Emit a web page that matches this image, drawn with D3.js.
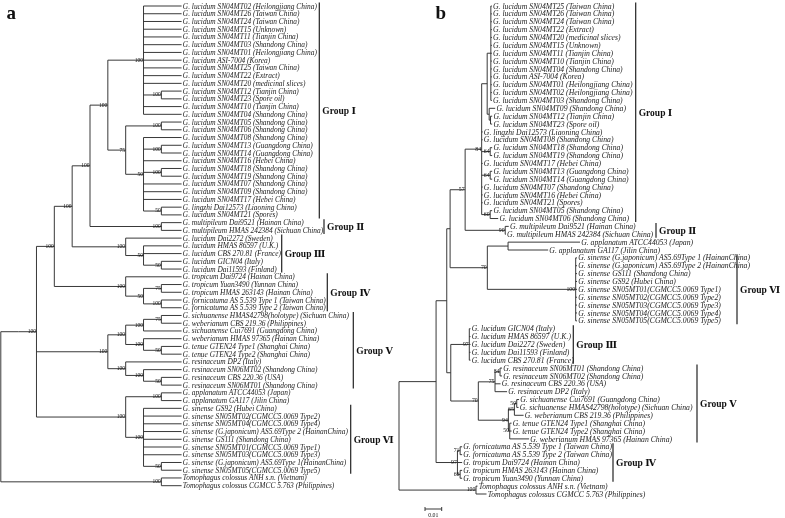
<!DOCTYPE html>
<html><head><meta charset="utf-8">
<script src="https://cdn.jsdelivr.net/npm/d3@7/dist/d3.min.js"></script>
<style>
body{margin:0;background:#fff}
svg{display:block;will-change:transform}
.leaf{font-family:"Liberation Serif","Times New Roman",serif;font-style:italic;fill:#1a1a1a}
.boot{font-family:"Liberation Serif","Times New Roman",serif;fill:#111}
.grp{font-family:"Liberation Serif","DejaVu Serif",serif;font-weight:bold;font-size:9.5px;fill:#111}
.panel{font-family:"Liberation Serif","Times New Roman",serif;font-weight:bold;font-size:19px;fill:#111}
.edge{stroke:#2e2e2e;stroke-width:0.95;fill:none}
</style></head><body>
<svg width="785" height="518"></svg>
<script>
// ---------------- DATA ----------------
const leavesA = [
"G. lucidum SN04MT02 (Heilongjiang China)","G. lucidum SN04MT26 (Taiwan China)","G. lucidum SN04MT24 (Taiwan China)",
"G. lucidum SN04MT15 (Unknown)","G. lucidum SN04MT11 (Tianjin China)","G. lucidum SN04MT03 (Shandong China)",
"G. lucidum SN04MT01 (Heilongjiang China)","G. lucidum ASI-7004 (Korea)","G. lucidum SN04MT25 (Taiwan China)",
"G. lucidum SN04MT22 (Extract)","G. lucidum SN04MT20 (medicinal slices)","G. lucidum SN04MT12 (Tianjin China)",
"G. lucidum SN04MT23 (Spore oil)","G. lucidum SN04MT10 (Tianjin China)","G. lucidum SN04MT04 (Shandong China)",
"G. lucidum SN04MT05 (Shandong China)","G. lucidum SN04MT06 (Shandong China)","G. lucidum SN04MT08 (Shandong China)",
"G. lucidum SN04MT13 (Guangdong China)","G. lucidum SN04MT14 (Guangdong China)","G. lucidum SN04MT16 (Hebei China)",
"G. lucidum SN04MT18 (Shandong China)","G. lucidum SN04MT19 (Shandong China)","G. lucidum SN04MT07 (Shandong China)",
"G. lucidum SN04MT09 (Shandong China)","G. lucidum SN04MT17 (Hebei China)","G. lingzhi Dai12573 (Liaoning China)",
"G. lucidum SN04MT21 (Spores)","G. multipileum Dai9521 (Hainan China)","G. multipileum HMAS 242384 (Sichuan China)",
"G. lucidum Dai2272 (Sweden)","G. lucidum HMAS 86597 (U.K.)","G. lucidum CBS 270.81 (France)",
"G. lucidum GICN04 (Italy)","G. lucidum Dai11593 (Finland)","G. tropicum Dai9724 (Hainan China)",
"G. tropicum Yuan3490 (Yunnan China)","G. tropicum HMAS 263143 (Hainan China)","G. fornicatuma AS 5.539 Type 1 (Taiwan China)",
"G. fornicatuma AS 5.539 Type 2 (Taiwan China)","G. sichuanense HMAS42798(holotype) (Sichuan China)","G. weberianum CBS 219.36 (Philippines)",
"G. sichuanense Cui7691 (Guangdong China)","G. weberianum HMAS 97365 (Hainan China)","G. tenue GTEN24 Type1 (Shanghai China)",
"G. tenue GTEN24 Type2 (Shanghai China)","G. resinaceum DP2 (Italy)","G. resinaceum SN06MT02 (Shandong China)",
"G. resinaceum CBS 220.36 (USA)","G. resinaceum SN06MT01 (Shandong China)","G. applanatum ATCC44053 (Japan)",
"G. applanatum GA117 (Jilin China)","G. sinense GS92 (Hubei China)","G. sinense SN05MT02(CGMCC5.0069 Type2)",
"G. sinense SN05MT04(CGMCC5.0069 Type4)","G. sinense (G.japonicum) AS5.69Type 2 (HainanChina)","G. sinense GS111 (Shandong China)",
"G. sinense SN05MT01(CGMCC5.0069 Type1)","G. sinense SN05MT03(CGMCC5.0069 Type3)","G. sinense (G.japonicum) AS5.69Type 1(HainanChina)",
"G. sinense SN05MT05(CGMCC5.0069 Type5)","Tomophagus colossus ANH s.n. (Vietnam)","Tomophagus colossus CGMCC 5.763 (Philippines)"
];
// topology of panel a (leaf index, bootstrap support after ")")
const treeA = "((((((((0,1,2,3,4,5,6,7,8,9,10,(11,12)100,13,14)100,((15,16)100,(17,(18,19)100,20,(21,22)100,23,24,25,(26,27)50)50)75)100,(28,29)100)100,(30,(31,32,(33,34)50)50)100)100,(35,((36,37)75,(38,39)100)50)100)100,((((40,41)75,42)100,(43,(44,45)50)100)100,(46,(47,(48,49)50)100)100)100,((50,51)100,(52,53,54,55,56,57,58,(59,60)50)100)100)100),(61,62)100)";

const leavesB = [
"G. lucidum SN04MT25 (Taiwan China)","G. lucidum SN04MT26 (Taiwan China)","G. lucidum SN04MT24 (Taiwan China)",
"G. lucidum SN04MT22 (Extract)","G. lucidum SN04MT20 (medicinal slices)","G. lucidum SN04MT15 (Unknown)",
"G. lucidum SN04MT11 (Tianjin China)","G. lucidum SN04MT10 (Tianjin China)","G. lucidum SN04MT04 (Shandong China)",
"G. lucidum ASI-7004 (Korea)","G. lucidum SN04MT01 (Heilongjiang China)","G. lucidum SN04MT02 (Heilongjiang China)",
"G. lucidum SN04MT03 (Shandong China)","G. lucidum SN04MT09 (Shandong China)","G. lucidum SN04MT12 (Tianjin China)",
"G. lucidum SN04MT23 (Spore oil)","G. lingzhi Dai12573 (Liaoning China)","G. lucidum SN04MT08 (Shandong China)",
"G. lucidum SN04MT18 (Shandong China)","G. lucidum SN04MT19 (Shandong China)","G. lucidum SN04MT17 (Hebei China)",
"G. lucidum SN04MT13 (Guangdong China)","G. lucidum SN04MT14 (Guangdong China)","G. lucidum SN04MT07 (Shandong China)",
"G. lucidum SN04MT16 (Hebei China)","G. lucidum SN04MT21 (Spores)","G. lucidum SN04MT05 (Shandong China)",
"G. lucidum SN04MT06 (Shandong China)","G. multipileum Dai9521 (Hainan China)","G. multipileum HMAS 242384 (Sichuan China)",
"G. applanatum ATCC44053 (Japan)","G. applanatum GA117 (Jilin China)","G. sinense (G.japonicum) AS5.69Type 1 (HainanChina)",
"G. sinense (G.japonicum) AS5.69Type 2 (HainanChina)","G. sinense GS111 (Shandong China)","G. sinense GS92 (Hubei China)",
"G. sinense SN05MT01(CGMCC5.0069 Type1)","G. sinense SN05MT02(CGMCC5.0069 Type2)","G. sinense SN05MT03(CGMCC5.0069 Type3)",
"G. sinense SN05MT04(CGMCC5.0069 Type4)","G. sinense SN05MT05(CGMCC5.0069 Type5)","G. lucidum GICN04 (Italy)",
"G. lucidum HMAS 86597 (U.K.)","G. lucidum Dai2272 (Sweden)","G. lucidum Dai11593 (Finland)",
"G. lucidum CBS 270.81 (France)","G. resinaceum SN06MT01 (Shandong China)","G. resinaceum SN06MT02 (Shandong China)",
"G. resinaceum CBS 220.36 (USA)","G. resinaceum DP2 (Italy)","G. sichuanense Cui7691 (Guangdong China)",
"G. sichuanense HMAS42798(holotype) (Sichuan China)","G. weberianum CBS 219.36 (Philippines)","G. tenue GTEN24 Type1 (Shanghai China)",
"G. tenue GTEN24 Type2 (Shanghai China)","G. weberianum HMAS 97365 (Hainan China)","G. fornicatuma AS 5.539 Type 1 (Taiwan China)",
"G. fornicatuma AS 5.539 Type 2 (Taiwan China)","G. tropicum Dai9724 (Hainan China)","G. tropicum HMAS 263143 (Hainan China)",
"G. tropicum Yuan3490 (Yunnan China)","Tomophagus colossus ANH s.n. (Vietnam)","Tomophagus colossus CGMCC 5.763 (Philippines)"
];
// panel b: leaf index : branch length (substitutions/site), support after ")"
const treeB = "((((((((((0:0.0006,1:0.0006,2:0.0006,3:0.0006,4:0.0006,5:0.0006,6:0.0006,7:0.0006,8:0.0006,9:0.0006,10:0.0006,11:0.0006,12:0.0006):0.0022,(13:0.0036,(14:0.001,15:0.001):0.0008):0.0012):0.0033,16:0.0006,17:0.0006,(18:0.0012,19:0.0012)64:0.0051,20:0.0006,(21:0.0012,22:0.0012)64:0.0051,23:0.0006,24:0.0006,25:0.0006,(26:0.0012,27:0.0048)60:0.0051)84:0.0099,(28:0.0021,29:0.0004)90:0.024)57:0.009,((30:0.0431,31:0.024):0.0124,(32:0.0008,33:0.0008,34:0.0008,35:0.0008,36:0.0008,37:0.0008,38:0.0008,39:0.0008,40:0.0008)100:0.0529)70:0.0223):0.002,((41:0.0007,42:0.0007,43:0.0007,44:0.0007,45:0.0007)97:0.0111,(((46:0.0012,47:0.0012)84:0.003,48:0.0033,49:0.0072)75:0.01,(((50:0.0014,51:0.0011)50:0.0014,52:0.0055)65:0.0036,(53:0.0011,54:0.0011,55:0.0116)50:0.0008)94:0.018)70:0.0165):0.0024):0.0064,((56:0.0012,57:0.0012)71:0.0016,58:0.0028,(59:0.0012,60:0.0012)66:0.0016)97:0.0128):0.0222,(61:0.0009,62:0.0063)100:0.0461)";

const groupNamesA = ["Group Ⅰ","Group Ⅱ","Group Ⅲ","Group Ⅳ","Group Ⅴ","Group Ⅵ"];
const groupFirstA = [0,28,30,35,40,52];
const groupLastA  = [27,29,34,39,49,60];
const groupNamesB = ["Group Ⅰ","Group Ⅱ","Group Ⅵ","Group Ⅲ","Group Ⅴ","Group Ⅳ"];
const groupFirstB = [0,28,32,41,46,56];
const groupLastB  = [27,29,40,45,55,60];
const scaleBarValue = 0.01;

// ---------------- LAYOUT ----------------
const layout = {
  a:{y0:6, y1:485.7, rootX:0.8, tipX:179.2, leafStub:2.4, font:7.4, boot:5.5,
     bars:[319.3,324,281.7,327.3,353.3,350.7]},
  b:{y0:6, y1:494, rootX:399, pxPer001:16.7, font:7.7, boot:5.8,
     bars:[635.7,656,737,573.3,697,613]}
};

function parseNewick(s){
  let i=0;
  function node(){
    const n={};
    if(s[i]==='('){
      n.children=[]; i++;
      n.children.push(node());
      while(s[i]===','){i++; n.children.push(node());}
      i++;
    }
    let name='';
    while(i<s.length && !',):'.includes(s[i])) name+=s[i++];
    if(s[i]===':'){i++; let l=''; while(i<s.length && !',)'.includes(s[i])) l+=s[i++]; n.len=+l;}
    if(!n.children) n.leaf=+name; else n.support=name;
    return n;
  }
  return node();
}

const svg = d3.select("svg");

function layoutY(root, yScale){
  root.eachAfter(d=>{
    if(!d.children) d.y = yScale(d.data.leaf);
    else d.y = (d.children[0].y + d.children[d.children.length-1].y)/2;
  });
}

function drawTree(g, root, labels, fontSize, bootSize, leafEnd){
  const edges = g.append("g");
  root.each(d=>{
    if(d.children){
      const c0=d.children[0], c1=d.children[d.children.length-1];
      edges.append("line").attr("class","edge").attr("x1",d.x).attr("x2",d.x).attr("y1",c0.y).attr("y2",c1.y);
      d.children.forEach(c=>{
        const xe = c.children ? c.x : leafEnd(c);
        edges.append("line").attr("class","edge").attr("x1",d.x).attr("x2",xe).attr("y1",c.y).attr("y2",c.y);
      });
      if(d.data.support){
        g.append("text").attr("class","boot").attr("font-size",bootSize)
          .attr("x",d.x-0.6).attr("y",d.y+1.4).attr("text-anchor","end").text(d.data.support);
      }
    }
  });
  g.selectAll("text.leaf").data(root.leaves()).join("text").attr("class","leaf")
    .attr("font-size",fontSize).attr("x",d=>leafEnd(d)+1.2).attr("y",d=>d.y).attr("dy","0.34em")
    .text(d=>labels[d.data.leaf]);
}

function drawGroups(g, names, first, last, bars, yScale){
  names.forEach((nm,i)=>{
    const ya=yScale(first[i])-3.5, yb=yScale(last[i])+3.5, x=bars[i];
    g.append("line").attr("x1",x).attr("x2",x).attr("y1",ya).attr("y2",yb)
      .attr("stroke","#222").attr("stroke-width",1.2);
    g.append("text").attr("class","grp").attr("x",x+3).attr("y",(ya+yb)/2).attr("dy","0.35em").text(nm);
  });
}

// ---- panel a (cladogram) ----
{
  const L = layout.a;
  const root = d3.hierarchy(parseNewick(treeA), d=>d.children);
  const yA = d3.scaleLinear().domain([0, leavesA.length-1]).range([L.y0, L.y1]);
  const xA = d3.scaleLinear().domain([root.height, 0]).range([L.rootX, L.tipX]);
  root.each(d=>{ d.x = xA(d.height); });
  layoutY(root, yA);
  const g = svg.append("g");
  drawTree(g, root, leavesA, L.font, L.boot, d=>xA(0)+L.leafStub);
  drawGroups(g, groupNamesA, groupFirstA, groupLastA, L.bars, yA);
  svg.append("text").attr("class","panel").attr("x",6.5).attr("y",18.5).text("a");
}

// ---- panel b (phylogram) ----
{
  const L = layout.b;
  const root = d3.hierarchy(parseNewick(treeB), d=>d.children);
  const yB = d3.scaleLinear().domain([0, leavesB.length-1]).range([L.y0, L.y1]);
  const xB = d3.scaleLinear().domain([0, 0.01]).range([L.rootX, L.rootX+L.pxPer001]);
  root.eachBefore(d=>{ d.dist = d.parent ? d.parent.dist + (d.data.len||0) : 0; d.x = xB(d.dist); });
  layoutY(root, yB);
  const g = svg.append("g");
  drawTree(g, root, leavesB, L.font, L.boot, d=>d.x);
  drawGroups(g, groupNamesB, groupFirstB, groupLastB, L.bars, yB);
  svg.append("text").attr("class","panel").attr("x",435.5).attr("y",18.5).text("b");
  // scale bar
  const sx0 = 425, sx1 = sx0 + (xB(scaleBarValue)-xB(0)), sy = 509;
  const sb = svg.append("g").attr("stroke","#2e2e2e").attr("stroke-width",0.95);
  sb.append("line").attr("x1",sx0).attr("x2",sx1).attr("y1",sy).attr("y2",sy);
  sb.append("line").attr("x1",sx0).attr("x2",sx0).attr("y1",sy-2).attr("y2",sy+2);
  sb.append("line").attr("x1",sx1).attr("x2",sx1).attr("y1",sy-2).attr("y2",sy+2);
  svg.append("text").attr("class","boot").attr("font-size",5.8).attr("x",(sx0+sx1)/2).attr("y",517)
    .attr("text-anchor","middle").text(d3.format(".2f")(scaleBarValue));
}
</script>
</body></html>
